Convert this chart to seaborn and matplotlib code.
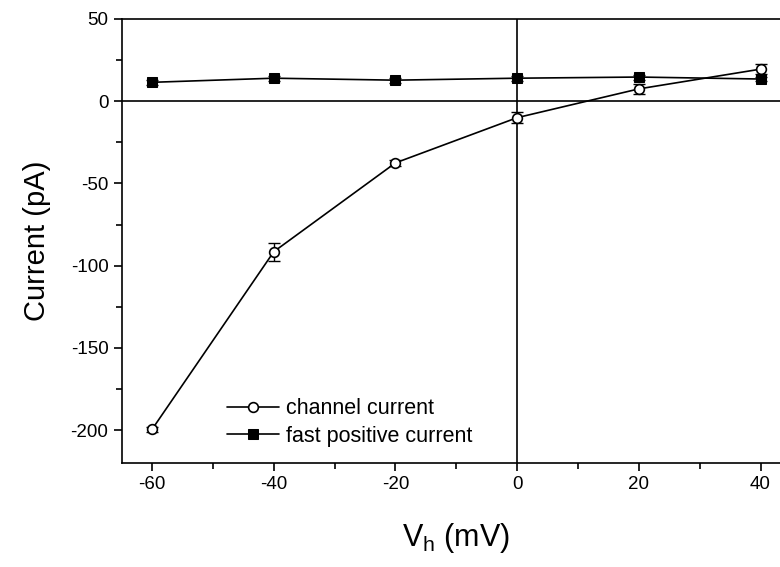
import matplotlib
matplotlib.use("Agg")
import matplotlib.pyplot as plt
from matplotlib.ticker import MultipleLocator
import seaborn as sns
import pandas as pd

# holding potential (mV)
voltage = [-60, -40, -20, 0, 20, 40]

# channel current (pA) and its error
channel = [-199.5, -91.5, -37.5, -10, 7.5, 19.5]
channel_err = [1.5, 5.5, 2, 3.5, 3, 3]

# fast positive current (pA) and its error
fast = [11.5, 14, 12.8, 14, 14.7, 13.5]
fast_err = [1.5, 1.5, 1.5, 1.5, 1.5, 1.5]

labels = ["channel current", "fast positive current"]


def main():
    df = pd.DataFrame({"V": voltage, "channel": channel, "fast": fast})

    sns.set_style("ticks")
    plt.rcParams["font.family"] = ["Liberation Sans", "DejaVu Sans"]
    plt.rcParams["mathtext.fontset"] = "custom"
    plt.rcParams["mathtext.rm"] = "Liberation Sans"
    plt.rcParams["axes.unicode_minus"] = False
    plt.rcParams["text.color"] = "k"
    plt.rcParams["axes.labelcolor"] = "k"

    fig = plt.figure(figsize=(7.8, 5.67), dpi=100)
    ax = fig.add_axes([0.156, 0.1834, 0.858, 0.7831])

    ax.axhline(0, color="k", lw=1.2, zorder=1)
    ax.axvline(0, color="k", lw=1.2, zorder=1)

    ax.errorbar(df["V"], df["channel"], yerr=channel_err, fmt="none",
                ecolor="k", elinewidth=1, capsize=4, capthick=1, zorder=2)
    ax.errorbar(df["V"], df["fast"], yerr=fast_err, fmt="none",
                ecolor="k", elinewidth=1, capsize=4, capthick=1, zorder=2)

    sns.lineplot(data=df, x="V", y="channel", ax=ax, color="k", lw=1.2,
                 marker="o", markersize=7, markerfacecolor="white",
                 markeredgecolor="k", markeredgewidth=1.2,
                 label=labels[0], zorder=3)
    sns.lineplot(data=df, x="V", y="fast", ax=ax, color="k", lw=1.2,
                 marker="s", markersize=7, markerfacecolor="k",
                 markeredgecolor="k", label=labels[1], zorder=3)

    ax.set_xlim(-65, 45)
    ax.set_ylim(-220, 50)
    ax.xaxis.set_major_locator(MultipleLocator(20))
    ax.xaxis.set_minor_locator(MultipleLocator(10))
    ax.yaxis.set_major_locator(MultipleLocator(50))
    ax.yaxis.set_minor_locator(MultipleLocator(25))
    ax.tick_params(which="both", direction="out", color="k", width=1.2,
                   labelsize=13.5, labelcolor="k")
    ax.tick_params(which="major", length=6)
    ax.tick_params(which="minor", length=4)

    for side in ["left", "bottom", "top"]:
        ax.spines[side].set_color("k")
        ax.spines[side].set_linewidth(1.2)
    ax.spines["right"].set_visible(False)

    ax.set_xlabel("V$_\\mathregular{h}$ (mV)", fontsize=22, labelpad=20)
    ax.set_ylabel("Current (pA)", fontsize=21, labelpad=14)

    ax.legend(loc="upper left", bbox_to_anchor=(0.142, 0.17),
              frameon=False, fontsize=15.5, handlelength=2.4,
              handletextpad=0.3, borderpad=0, labelspacing=0.3)

    fig.savefig("out.png", dpi=100)


main()
